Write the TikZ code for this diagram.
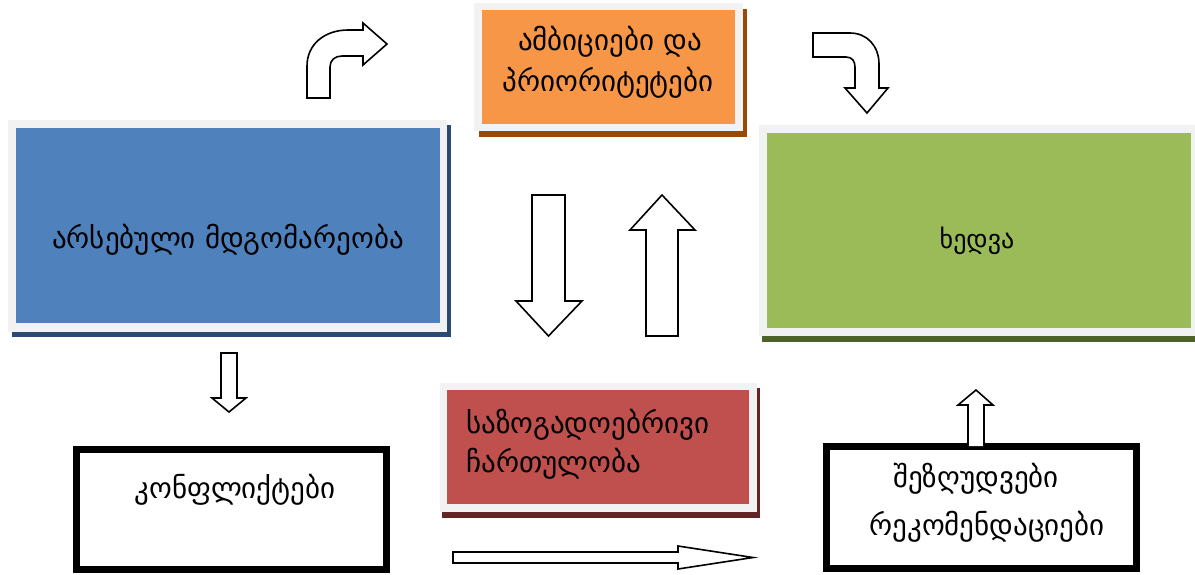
\documentclass[tikz,border=0pt]{standalone}
\usepackage{fontspec}
\setmainfont{DejaVu Sans}
\definecolor{framegray}{HTML}{F2F2F2}
\definecolor{cblue}{HTML}{4F81BD}
\definecolor{cblueS}{HTML}{2A4A72}
\definecolor{corange}{HTML}{F79646}
\definecolor{corangeS}{HTML}{984807}
\definecolor{cgreen}{HTML}{9BBB59}
\definecolor{cgreenS}{HTML}{4F6228}
\definecolor{cred}{HTML}{C0504D}
\definecolor{credS}{HTML}{632523}
\tikzset{
  frame/.style={fill=framegray, draw=none},
  boxfill/.style={draw=none, inner sep=0pt, outer sep=0pt},
  txt/.style={inner sep=0pt, anchor=base, font=\fontsize{29}{34}\selectfont},
  txtl/.style={inner sep=0pt, anchor=base west, font=\fontsize{29}{34}\selectfont},
  blockarrow/.style={draw=black, fill=white, line width=1.6pt, line join=miter},
  whitebox/.style={draw=black, fill=white, line width=7pt, inner sep=0pt},
}
\begin{document}
\begin{tikzpicture}[x=1pt,y=-1pt]
\path[use as bounding box] (0,0) rectangle (1195,574);

% blue box
\fill[cblueS] (12,125) rectangle (451,337);
\fill[framegray] (8,120) rectangle (447,332);
\node[boxfill, fill=cblue, minimum width=424pt, minimum height=195pt] (cur) at (228,225.5) {};
\node[txt] (curT) at (228,248) {არსებული მდგომარეობა};

% orange box
\fill[corangeS] (479,9) rectangle (747,137);
\fill[framegray] (474,3) rectangle (743,131);
\node[boxfill, fill=corange, minimum width=253pt, minimum height=114pt] (amb) at (608.5,67) {};
\node[txt] (ambT1) at (610,50) {ამბიციები და};
\node[txt] (ambT2) at (608,91) {პრიორიტეტები};

% green box
\fill[cgreenS] (762,130) rectangle (1199,342);
\fill[framegray] (759,125) rectangle (1199,336);
\node[boxfill, fill=cgreen, minimum width=424pt, minimum height=195pt] (vis) at (979,230.5) {};
\node[txt, font=\fontsize{26}{31}\selectfont] (visT) at (977,248) {ხედვა};

% red box
\fill[credS] (442,388) rectangle (760,518);
\fill[framegray] (440,383) rectangle (757,512);
\node[boxfill, fill=cred, minimum width=302pt, minimum height=114pt] (par) at (598,447) {};
\node[txtl] (parT1) at (466,433) {საზოგადოებრივი};
\node[txtl] (parT2) at (466,472) {ჩართულობა};

% conflicts box
\node[whitebox, minimum width=310pt, minimum height=120pt] (con) at (231.5,509.5) {};
\node[txt] (conT) at (235,498) {კონფლიქტები};

% restrictions box
\node[whitebox, minimum width=310pt, minimum height=122pt] (res) at (981.5,507.5) {};
\node[txt] (resT1) at (976,487) {შეზღუდვები};
\node[txt] (resT2) at (987,535) {რეკომენდაციები};

% block arrows
% curved arrow, top left
\draw[blockarrow] (307,98) -- (307,66)
  .. controls (307,44) and (325,30) .. (348,30)
  -- (363,30) -- (363,23) -- (387,44) -- (363,65) -- (363,56)
  -- (342,56) .. controls (335,56) and (330,60) .. (330,67)
  -- (330,98) -- cycle;
% curved arrow, top right
\draw[blockarrow] (813,33) -- (850,33)
  .. controls (867,33) and (879,46) .. (879,64)
  -- (879,88) -- (888,88) -- (867,113) -- (845,88) -- (855,88)
  -- (855,67) .. controls (855,61) and (852,57) .. (846,57)
  -- (813,57) -- cycle;
% down arrow, middle
\draw[blockarrow] (532,195) -- (565,195) -- (565,301) -- (582,301) -- (548.5,336) -- (516,301) -- (532,301) -- cycle;
% up arrow, middle
\draw[blockarrow] (646,336) -- (678,336) -- (678,230) -- (695,230) -- (662,195) -- (630,230) -- (646,230) -- cycle;
% down arrow, left
\draw[blockarrow] (221,353) -- (237,353) -- (237,398) -- (246,398) -- (229,412) -- (212,398) -- (221,398) -- cycle;
% right arrow, bottom
\draw[blockarrow] (453,552) -- (678,552) -- (678,546) -- (753,557.5) -- (678,569) -- (678,563) -- (453,563) -- cycle;
% up arrow, right
\draw[blockarrow] (968,446) -- (968,405) -- (958,405) -- (976,390) -- (993,405) -- (984,405) -- (984,446);
\end{tikzpicture}
\end{document}
